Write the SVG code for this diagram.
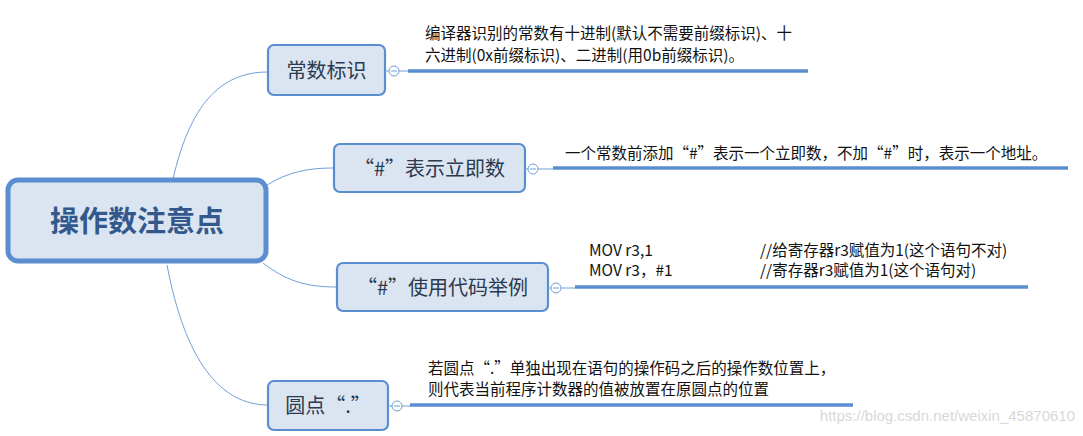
<svg xmlns="http://www.w3.org/2000/svg" width="1083" height="436" viewBox="0 0 1083 436">
<style>
.node{fill:#dbe5f1;stroke:#5b8ed1;stroke-width:2.2}
.root{fill:#dbe5f1;stroke:#5b8ed1;stroke-width:5}
.nt{font-family:"Noto Sans CJK SC","Microsoft YaHei",sans-serif;font-size:20px;fill:#2b3a4f}
.rt{font-family:"Noto Sans CJK SC",sans-serif;font-size:29px;font-weight:bold;fill:#33598c}
.lbl{font-family:"Noto Sans CJK SC",sans-serif;font-size:15.5px;fill:#111}
.conn{fill:none;stroke:#6f9fd8;stroke-width:1}
.bar{stroke:#5b8ed1;stroke-width:3.5}
.tick{stroke:#6f9fd8;stroke-width:1}
.col{fill:#fff;stroke:#6f9fd8;stroke-width:1}
.wm{font-family:"Liberation Sans",Arial,sans-serif;font-size:15px;fill:#d8d8d8}
</style>
<rect width="1083" height="436" fill="#fff"/>
<g id="connectors">
<path class="conn" d="M173,179 C190,105 220,72 268,72"/>
<path class="conn" d="M267,185 C288,172 308,168 333,168"/>
<path class="conn" d="M263,263 C285,280 305,287 336,287"/>
<path class="conn" d="M167,265 C185,360 220,405 268,405"/>
</g>
<g id="root">
<rect class="root" x="8" y="180" width="258" height="81" rx="10"/>
<text class="rt" x="137" y="232" text-anchor="middle">操作数注意点</text>
</g>
<g id="n1">
<rect class="node" x="268" y="45" width="117" height="50" rx="6"/>
<text class="nt" x="326.5" y="78" text-anchor="middle">常数标识</text>
<line class="tick" x1="385" y1="71" x2="389" y2="71"/>
<circle class="col" cx="394" cy="71" r="5"/>
<line class="tick" x1="391" y1="71" x2="397" y2="71"/>
<line class="tick" x1="399" y1="71" x2="408" y2="71"/>
<line class="bar" x1="408" y1="71" x2="808" y2="71"/>
<text class="lbl" x="425" y="39">编译器识别的常数有十进制(默认不需要前缀标识)、十</text>
<text class="lbl" x="425" y="61">六进制(0x前缀标识)、二进制(用0b前缀标识)。</text>
</g>
<g id="n2">
<rect class="node" x="334" y="144" width="191" height="48" rx="6"/>
<text class="nt" x="429.5" y="176" text-anchor="middle">“#”表示立即数</text>
<line class="tick" x1="525" y1="169" x2="528" y2="169"/>
<circle class="col" cx="533" cy="169" r="5"/>
<line class="tick" x1="530" y1="169" x2="536" y2="169"/>
<line class="tick" x1="538" y1="169" x2="553" y2="169"/>
<line class="bar" x1="553" y1="168" x2="1068" y2="168"/>
<text class="lbl" x="565" y="159">一个常数前添加“#”表示一个立即数，不加“#”时，表示一个地址。</text>
</g>
<g id="n3">
<rect class="node" x="337" y="263" width="211" height="48" rx="6"/>
<text class="nt" x="442.5" y="295" text-anchor="middle">“#”使用代码举例</text>
<line class="tick" x1="548" y1="288" x2="551" y2="288"/>
<circle class="col" cx="556" cy="288" r="5"/>
<line class="tick" x1="553" y1="288" x2="559" y2="288"/>
<line class="tick" x1="561" y1="288" x2="575" y2="288"/>
<line class="bar" x1="575" y1="287" x2="1028" y2="287"/>
<text class="lbl" x="589" y="256">MOV r3,1</text>
<text class="lbl" x="760" y="256">//给寄存器r3赋值为1(这个语句不对)</text>
<text class="lbl" x="589" y="276">MOV r3，#1</text>
<text class="lbl" x="760" y="276">//寄存器r3赋值为1(这个语句对)</text>
</g>
<g id="n4">
<rect class="node" x="268" y="381" width="120" height="49" rx="6"/>
<text class="nt" x="328" y="413" text-anchor="middle">圆点“.”</text>
<line class="tick" x1="388" y1="406" x2="392" y2="406"/>
<circle class="col" cx="397" cy="406" r="5"/>
<line class="tick" x1="394" y1="406" x2="400" y2="406"/>
<line class="tick" x1="402" y1="406" x2="410" y2="406"/>
<line class="bar" x1="410" y1="405" x2="853" y2="405"/>
<text class="lbl" x="428" y="374">若圆点“.”单独出现在语句的操作码之后的操作数位置上，</text>
<text class="lbl" x="428" y="395">则代表当前程序计数器的值被放置在原圆点的位置</text>
</g>
<text class="wm" x="1075" y="421" text-anchor="end">https://blog.csdn.net/weixin_45870610</text>
</svg>
